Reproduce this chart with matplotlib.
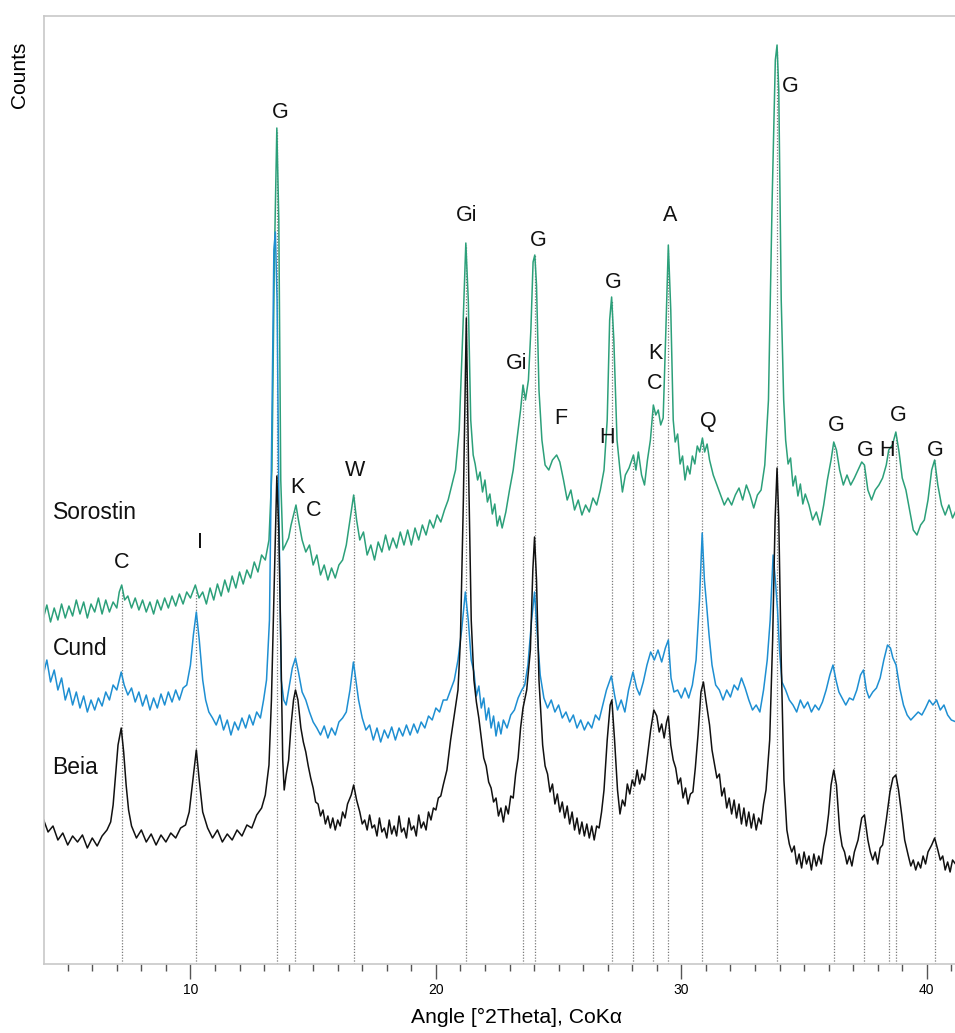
import matplotlib
matplotlib.use("Agg")
import matplotlib.pyplot as plt
from matplotlib.ticker import MultipleLocator

plt.rcParams["font.family"] = ["Liberation Sans", "DejaVu Sans"]

# ---- XRD traces: (angle °2θ, counts, arbitrary offset units) ----
SOROSTIN = [
    (4.02, 347), (4.15, 359), (4.3, 342), (4.45, 356), (4.6, 344), (4.75, 360), (4.9, 346), (5.05, 358),
    (5.2, 348), (5.35, 364), (5.5, 350), (5.65, 362), (5.8, 346), (5.95, 360), (6.1, 352), (6.25, 366),
    (6.4, 350), (6.55, 364), (6.7, 352), (6.85, 362), (7.0, 356), (7.1, 372), (7.2, 379), (7.32, 364),
    (7.45, 368), (7.6, 356), (7.75, 366), (7.9, 354), (8.05, 364), (8.2, 352), (8.35, 362), (8.5, 350),
    (8.65, 364), (8.8, 354), (8.95, 366), (9.1, 356), (9.25, 368), (9.4, 358), (9.55, 370), (9.7, 360),
    (9.85, 372), (10.0, 366), (10.2, 379), (10.35, 366), (10.5, 372), (10.65, 360), (10.8, 376), (10.95, 364),
    (11.1, 380), (11.25, 368), (11.4, 384), (11.55, 372), (11.7, 388), (11.85, 376), (12.0, 392), (12.15, 380),
    (12.3, 394), (12.45, 386), (12.6, 402), (12.75, 392), (12.9, 409), (13.05, 404), (13.2, 424), (13.32, 494),
    (13.42, 704), (13.52, 836), (13.6, 744), (13.68, 484), (13.77, 414), (13.87, 419), (14.0, 426), (14.1, 439),
    (14.2, 449), (14.3, 459), (14.4, 444), (14.55, 424), (14.7, 412), (14.85, 419), (15.0, 399), (15.15, 409),
    (15.3, 389), (15.45, 399), (15.6, 384), (15.75, 396), (15.9, 386), (16.05, 399), (16.2, 404), (16.35, 419),
    (16.5, 444), (16.65, 469), (16.77, 444), (16.9, 424), (17.05, 432), (17.2, 409), (17.35, 419), (17.5, 404),
    (17.65, 422), (17.8, 412), (17.95, 429), (18.1, 414), (18.25, 426), (18.4, 416), (18.55, 432), (18.7, 419),
    (18.85, 434), (19.0, 419), (19.15, 436), (19.3, 424), (19.45, 439), (19.6, 429), (19.75, 444), (19.9, 436),
    (20.05, 449), (20.2, 442), (20.35, 454), (20.5, 464), (20.65, 479), (20.8, 494), (20.95, 534), (21.1, 634),
    (21.22, 721), (21.32, 664), (21.42, 544), (21.52, 509), (21.6, 500), (21.7, 484), (21.8, 492), (21.9, 472),
    (22.0, 484), (22.1, 462), (22.2, 470), (22.3, 450), (22.4, 460), (22.5, 438), (22.6, 448), (22.7, 436),
    (22.85, 452), (23.0, 474), (23.15, 494), (23.3, 524),
    (23.45, 554), (23.55, 579), (23.65, 564), (23.77, 584), (23.87, 634), (23.96, 702), (24.03, 709), (24.1, 679),
    (24.2, 574), (24.32, 524), (24.45, 499), (24.6, 494), (24.75, 504), (24.92, 509), (25.05, 502), (25.2, 484),
    (25.35, 464), (25.5, 474), (25.65, 454), (25.8, 464), (25.95, 449), (26.1, 459), (26.25, 452), (26.4, 466),
    (26.55, 459), (26.7, 474), (26.85, 494), (26.98, 544), (27.08, 644), (27.16, 667), (27.25, 624), (27.38, 524),
    (27.5, 494), (27.6, 472), (27.72, 489), (27.87, 496), (28.05, 509), (28.15, 494), (28.25, 512), (28.38, 489),
    (28.5, 479), (28.62, 504), (28.74, 524), (28.86, 559), (28.96, 549), (29.06, 554), (29.16, 539), (29.26, 546),
    (29.37, 634), (29.47, 719), (29.57, 654), (29.67, 544), (29.75, 522), (29.85, 530), (29.95, 500), (30.05, 508),
    (30.15, 484), (30.25, 498), (30.35, 490), (30.45, 508), (30.55, 500), (30.65, 518), (30.75, 512), (30.86, 526),
    (30.95, 512), (31.05, 520), (31.15, 504), (31.3, 489), (31.45, 479),
    (31.6, 469), (31.75, 459), (31.9, 466), (32.05, 459), (32.2, 469), (32.35, 476), (32.5, 464), (32.65, 479),
    (32.8, 469), (32.95, 456), (33.1, 469), (33.25, 474), (33.4, 499), (33.55, 564), (33.7, 764), (33.83, 904),
    (33.9, 919), (33.97, 874), (34.07, 664), (34.17, 564), (34.25, 524), (34.35, 500), (34.45, 506), (34.55, 478),
    (34.65, 488), (34.75, 468), (34.85, 480), (34.95, 460), (35.05, 470), (35.2, 459), (35.35, 444), (35.5, 452),
    (35.65, 439), (35.8, 459), (35.95, 484),
    (36.1, 504), (36.21, 522), (36.32, 514), (36.45, 494), (36.6, 479), (36.75, 489), (36.9, 479), (37.05, 486),
    (37.2, 494), (37.35, 502), (37.46, 499), (37.6, 474), (37.75, 464), (37.9, 474), (38.05, 479), (38.2, 486),
    (38.35, 499), (38.45, 514), (38.6, 519), (38.74, 532), (38.87, 512), (39.0, 486), (39.15, 474), (39.3, 454),
    (39.45, 434), (39.6, 429), (39.75, 439), (39.9, 444), (40.05, 464), (40.2, 494), (40.32, 504), (40.45, 479),
    (40.6, 459), (40.75, 449), (40.9, 459), (41.05, 446), (41.2, 454),
]

CUND = [
    (4.02, 291), (4.15, 304), (4.3, 282), (4.45, 294), (4.6, 274), (4.75, 286), (4.9, 264), (5.05, 276),
    (5.2, 259), (5.35, 272), (5.5, 256), (5.65, 268), (5.8, 252), (5.95, 264), (6.1, 254), (6.25, 266),
    (6.4, 258), (6.55, 272), (6.7, 264), (6.85, 279), (7.0, 274), (7.18, 292), (7.3, 279), (7.45, 269),
    (7.6, 276), (7.75, 262), (7.9, 272), (8.05, 258), (8.2, 269), (8.35, 254), (8.5, 266), (8.65, 256),
    (8.8, 270), (8.95, 259), (9.1, 272), (9.25, 262), (9.4, 274), (9.55, 264), (9.7, 276), (9.85, 279),
    (10.0, 299), (10.12, 329), (10.24, 352), (10.36, 324), (10.5, 284), (10.62, 264), (10.75, 252), (10.9, 246),
    (11.05, 239), (11.2, 249), (11.35, 234), (11.5, 244), (11.65, 229), (11.8, 242), (11.95, 234), (12.1, 246),
    (12.25, 236), (12.4, 249), (12.55, 239), (12.7, 252), (12.85, 246), (12.98, 264), (13.1, 284), (13.22, 344),
    (13.32, 544), (13.4, 714), (13.46, 732), (13.53, 664), (13.61, 444), (13.7, 284), (13.8, 264), (13.9, 259),
    (14.0, 274), (14.15, 296), (14.28, 306), (14.4, 292), (14.55, 272), (14.7, 264), (14.85, 252), (15.0, 242),
    (15.15, 236), (15.3, 229), (15.45, 238), (15.6, 226), (15.75, 236), (15.9, 229), (16.05, 242), (16.2, 246),
    (16.35, 252), (16.5, 274), (16.64, 302), (16.74, 284), (16.85, 264), (17.0, 246), (17.15, 234), (17.3, 239),
    (17.45, 224), (17.6, 236), (17.75, 222), (17.9, 234), (18.05, 226), (18.2, 237), (18.35, 224), (18.5, 236),
    (18.65, 228), (18.8, 239), (18.95, 229), (19.1, 240), (19.25, 231), (19.4, 242), (19.55, 236), (19.7, 248),
    (19.85, 244), (20.0, 256), (20.15, 252), (20.3, 264), (20.45, 264), (20.6, 274), (20.75, 284), (20.9, 304),
    (21.05, 334), (21.2, 372), (21.32, 344), (21.44, 304), (21.55, 292), (21.65, 268), (21.75, 278), (21.85, 256),
    (21.95, 266), (22.05, 244), (22.15, 256), (22.25, 236), (22.35, 248), (22.45, 228), (22.55, 242), (22.65, 230),
    (22.75, 244), (22.9, 236), (23.05, 249), (23.2, 254),
    (23.35, 266), (23.5, 274), (23.62, 279), (23.75, 299), (23.9, 344), (24.02, 372), (24.12, 334), (24.25, 289),
    (24.4, 266), (24.55, 256), (24.7, 264), (24.85, 252), (25.0, 259), (25.15, 246), (25.3, 252), (25.45, 242),
    (25.6, 249), (25.75, 236), (25.9, 244), (26.05, 234), (26.2, 242), (26.35, 236), (26.5, 249), (26.65, 244),
    (26.8, 259), (26.95, 274), (27.15, 288), (27.28, 269), (27.4, 254), (27.55, 264), (27.7, 252), (27.85, 274),
    (28.03, 292), (28.18, 276), (28.3, 269), (28.45, 282), (28.6, 299), (28.75, 312), (28.9, 304), (29.05, 314),
    (29.2, 302), (29.35, 316), (29.47, 324), (29.58, 286), (29.7, 272), (29.85, 274), (30.0, 266), (30.15, 276),
    (30.3, 266), (30.45, 279), (30.6, 304), (30.74, 364), (30.85, 431), (30.94, 384), (31.03, 359), (31.13, 329),
    (31.25, 299), (31.4, 279), (31.55, 274), (31.7, 264), (31.85, 274), (32.0, 267), (32.15, 279), (32.3, 274),
    (32.45, 286), (32.6, 276), (32.75, 264), (32.9, 254), (33.05, 259), (33.2, 252), (33.35, 274), (33.5, 304),
    (33.62, 344), (33.74, 409), (33.83, 384), (33.92, 354), (34.0, 314), (34.1, 282), (34.25, 274), (34.4, 264),
    (34.55, 259), (34.7, 252), (34.85, 264), (35.0, 256), (35.15, 262), (35.3, 252), (35.45, 259), (35.6, 254),
    (35.75, 262), (35.9, 274), (36.05, 289), (36.18, 299), (36.3, 284), (36.42, 272), (36.55, 266), (36.7, 259),
    (36.85, 266), (37.0, 264), (37.15, 274), (37.3, 289), (37.42, 294), (37.54, 274), (37.65, 266), (37.8, 272),
    (37.95, 276), (38.1, 286), (38.25, 304), (38.4, 319), (38.52, 316), (38.62, 306), (38.75, 299), (38.9, 276),
    (39.05, 259), (39.2, 249), (39.35, 244), (39.5, 248), (39.65, 252), (39.8, 249), (39.95, 256), (40.1, 264),
    (40.25, 259), (40.4, 264), (40.55, 254), (40.7, 259), (40.85, 249), (41.0, 244), (41.2, 242),
]

BEIA = [
    (4.02, 144), (4.2, 132), (4.4, 138), (4.6, 124), (4.8, 131), (5.0, 119), (5.2, 128), (5.4, 122),
    (5.6, 129), (5.8, 116), (6.0, 126), (6.2, 118), (6.4, 128), (6.6, 134), (6.75, 142), (6.85, 159),
    (6.95, 189), (7.05, 219), (7.18, 236), (7.28, 212), (7.38, 179), (7.48, 154), (7.6, 138), (7.8, 126),
    (8.0, 134), (8.2, 122), (8.4, 130), (8.6, 119), (8.8, 129), (9.0, 122), (9.2, 131), (9.4, 126),
    (9.6, 136), (9.8, 139), (9.95, 152), (10.1, 184), (10.24, 214), (10.35, 186), (10.5, 152), (10.7, 136),
    (10.9, 126), (11.1, 134), (11.3, 122), (11.5, 130), (11.7, 124), (11.9, 134), (12.1, 128), (12.3, 139),
    (12.5, 136), (12.7, 149), (12.9, 156), (13.05, 169), (13.2, 199), (13.3, 264), (13.42, 384), (13.52, 488),
    (13.6, 434), (13.68, 324), (13.76, 204), (13.82, 174), (13.9, 189), (14.0, 204), (14.1, 239), (14.2, 264),
    (14.28, 274), (14.38, 264), (14.5, 236), (14.6, 222), (14.7, 212), (14.8, 198), (14.9, 186), (15.0, 176),
    (15.1, 162), (15.2, 160), (15.3, 148), (15.4, 154), (15.5, 140), (15.6, 148), (15.7, 136), (15.8, 146),
    (15.9, 134), (16.0, 144), (16.1, 138), (16.2, 152), (16.3, 146), (16.4, 160), (16.55, 169), (16.65, 179),
    (16.77, 164), (16.9, 152), (17.0, 140), (17.1, 144), (17.2, 134), (17.3, 149), (17.4, 136), (17.5, 139),
    (17.6, 128), (17.7, 146), (17.8, 132), (17.9, 136), (18.0, 126), (18.1, 144), (18.2, 130), (18.3, 138),
    (18.4, 128), (18.5, 148), (18.6, 132), (18.7, 136), (18.8, 126), (18.9, 146), (19.0, 134), (19.1, 138),
    (19.2, 128), (19.3, 149), (19.4, 136), (19.5, 142), (19.6, 134), (19.7, 152), (19.8, 144), (19.9, 156),
    (20.0, 154), (20.1, 166), (20.2, 168), (20.3, 179), (20.45, 194), (20.6, 224), (20.75, 249), (20.9, 274),
    (21.0, 324), (21.12, 464), (21.24, 646), (21.34, 484), (21.44, 344), (21.55, 284), (21.65, 262), (21.75, 246),
    (21.87, 222), (21.95, 206), (22.05, 198), (22.15, 182), (22.25, 176), (22.35, 162), (22.45, 166), (22.55, 148),
    (22.65, 156), (22.75, 142), (22.85, 158), (22.95, 150), (23.05, 168), (23.15, 166), (23.25, 190), (23.35, 206),
    (23.45, 236), (23.55, 256), (23.7, 274), (23.85, 314), (23.95, 394), (24.02, 427), (24.1, 384), (24.2, 284),
    (24.35, 219), (24.45, 198), (24.55, 190), (24.65, 172), (24.75, 180), (24.85, 160), (24.95, 170), (25.05, 152),
    (25.15, 162), (25.25, 146), (25.35, 158), (25.45, 140), (25.55, 152), (25.65, 134), (25.75, 146), (25.85, 130),
    (25.95, 142), (26.05, 128), (26.15, 140), (26.25, 126), (26.35, 138), (26.45, 124), (26.55, 138), (26.65, 136),
    (26.75, 152), (26.85, 174), (26.98, 224), (27.1, 259), (27.17, 264), (27.28, 224), (27.4, 174), (27.5, 150),
    (27.6, 164), (27.7, 158), (27.8, 180), (27.9, 170), (28.0, 184), (28.1, 178), (28.2, 194), (28.3, 180),
    (28.4, 190), (28.5, 184), (28.6, 204), (28.75, 234), (28.88, 254), (29.0, 248), (29.1, 232), (29.2, 240),
    (29.3, 226), (29.4, 242), (29.47, 248), (29.57, 219), (29.67, 204), (29.77, 196), (29.87, 180), (29.97, 186),
    (30.07, 166), (30.17, 176), (30.27, 160), (30.37, 170), (30.47, 172), (30.57, 196), (30.68, 229), (30.8, 272),
    (30.9, 282), (31.0, 264), (31.15, 239), (31.25, 214), (31.35, 200), (31.45, 186), (31.55, 190), (31.65, 168),
    (31.75, 176), (31.85, 156), (31.95, 166), (32.05, 150), (32.15, 164), (32.25, 146), (32.35, 160), (32.45, 140),
    (32.55, 156), (32.65, 138), (32.75, 152), (32.85, 136), (32.95, 150), (33.05, 134), (33.15, 146), (33.25, 140),
    (33.35, 160), (33.45, 174), (33.6, 224), (33.72, 324), (33.82, 444), (33.9, 496), (33.97, 444), (34.07, 304),
    (34.18, 184), (34.3, 134), (34.4, 120), (34.5, 112), (34.6, 118), (34.7, 100), (34.8, 110), (34.9, 96),
    (35.0, 112), (35.1, 100), (35.2, 108), (35.3, 94), (35.4, 110), (35.5, 98), (35.6, 108), (35.7, 100),
    (35.8, 118), (35.9, 130), (36.0, 150), (36.1, 179), (36.21, 194), (36.32, 179), (36.45, 134), (36.55, 118),
    (36.65, 112), (36.75, 100), (36.85, 108), (36.95, 98), (37.05, 112), (37.2, 124), (37.35, 146), (37.46, 149),
    (37.6, 124), (37.7, 112), (37.8, 104), (37.9, 112), (38.0, 100), (38.1, 116), (38.2, 119), (38.35, 144),
    (38.5, 172), (38.62, 186), (38.74, 189), (38.85, 174), (38.98, 149), (39.1, 124), (39.25, 108), (39.35, 98),
    (39.45, 104), (39.55, 94), (39.65, 102), (39.75, 96), (39.85, 108), (39.95, 100), (40.05, 112), (40.2, 119),
    (40.32, 126), (40.45, 114), (40.55, 104), (40.65, 108), (40.75, 94), (40.85, 102), (40.95, 92), (41.05, 104),
    (41.2, 99),
]

# reference (dotted) lines: peak angle and the height they reach
REF_ANGLES = [7.2, 10.24, 13.53, 14.27, 16.65, 21.24, 23.55, 24.02, 27.16, 28.05,
              28.86, 29.47, 30.86, 33.9, 36.21, 37.46, 38.45, 38.74, 40.32]
REF_TOPS = [374, 374, 834, 454, 469, 719, 579, 709, 664, 509,
            554, 714, 524, 914, 519, 499, 514, 529, 504]

# phase letters and where they sit (angle, counts)
PHASES = ["G", "C", "I", "K", "C", "W", "Gi", "Gi", "G", "F", "G", "H", "K", "C",
          "A", "Q", "G", "G", "G", "H", "G", "G"]
PHASE_POS = [(13.66, 852), (7.19, 402), (10.37, 422), (14.36, 477), (15.0, 454), (16.72, 494),
             (21.24, 749), (23.31, 601), (24.17, 724), (25.11, 546), (27.22, 682), (26.98, 527),
             (28.93, 611), (28.93, 581), (29.54, 749), (31.09, 543), (34.43, 878), (36.3, 539),
             (37.48, 514), (38.38, 514), (38.83, 549), (40.33, 514)]

SAMPLES = ["Sorostin", "Cund", "Beia"]
SAMPLE_Y = [452, 316, 196]

COLORS = {"Sorostin": "#2ca07a", "Cund": "#1e8fd2", "Beia": "#111111"}

fig = plt.figure(figsize=(9.55, 10.33), dpi=100)
ax = fig.add_axes([0.0461, 0.0668, 0.9539, 0.9177])

ax.vlines(REF_ANGLES, 0, REF_TOPS, colors="#7a7a7a", linestyles=(0, (1, 1.3)), lw=0.9, zorder=1)

for name, trace in zip(SAMPLES, [SOROSTIN, CUND, BEIA]):
    xs = [p[0] for p in trace]
    ys = [p[1] for p in trace]
    ax.plot(xs, ys, color=COLORS[name], lw=1.1, zorder=2)

for name, y in zip(SAMPLES, SAMPLE_Y):
    ax.text(4.38, y, name, fontsize=16.5, ha="left", va="center", color="#111")

for lab, (x, y) in zip(PHASES, PHASE_POS):
    ax.text(x, y, lab, fontsize=15.5, ha="center", va="center", color="#111")

ax.set_xlim(4.035, 41.15)
ax.set_ylim(0, 948)
ax.set_yticks([])
ax.xaxis.set_major_locator(MultipleLocator(10))
ax.xaxis.set_minor_locator(MultipleLocator(1))
ax.tick_params(axis="x", which="major", direction="out", length=11, width=1.0,
               color="#555555", labelsize=10, pad=3)
ax.tick_params(axis="x", which="minor", direction="out", length=5, width=1.0, color="#555555")
for side in ["left", "top", "bottom"]:
    ax.spines[side].set_color("#c8c8c8")
    ax.spines[side].set_linewidth(1.2)
ax.spines["right"].set_visible(False)

fig.text(516 / 955, 1 - 1017 / 1033, "Angle [°2Theta], CoKα", fontsize=15.2, ha="center", va="center")
fig.text(20 / 955, 1 - 75 / 1033, "Counts", fontsize=15, rotation=90, ha="center", va="center")

fig.savefig("out.png", dpi=100)
